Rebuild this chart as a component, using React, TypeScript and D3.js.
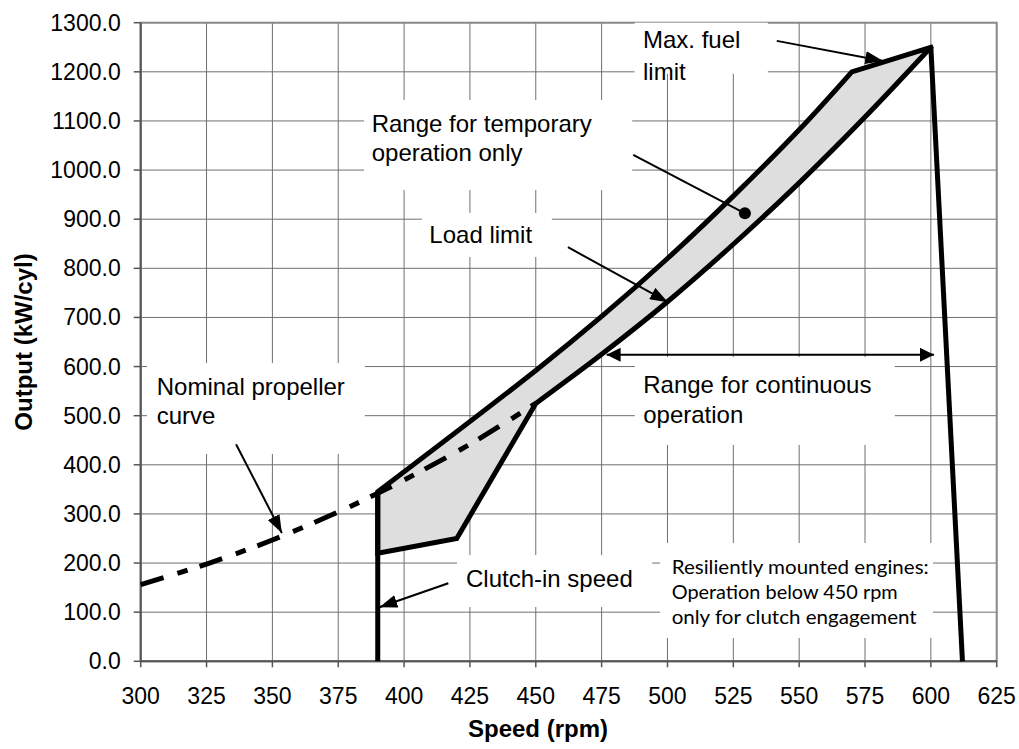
import React, { useEffect } from "react";
import * as d3 from "d3";

// ---------- data ----------
const xTickValues = [300, 325, 350, 375, 400, 425, 450, 475, 500, 525, 550, 575, 600, 625];
const yTickValues = [0, 100, 200, 300, 400, 500, 600, 700, 800, 900, 1000, 1100, 1200, 1300];

// upper boundary (max. fuel limit side)
const upperSpeed = [390, 450, 475, 500, 525, 550, 570];
const upperOutput = [345, 592, 702, 820, 947, 1082, 1200];
const peakSpeed = 600;
const peakOutput = 1250;
// lower boundary (load limit)
const lowerSpeed = [600, 575, 550, 525, 500, 475, 450];
const lowerOutput = [1250, 1108, 974, 849, 732, 625, 525];
const tailSpeed = [420, 390];
const tailOutput = [250, 220];
// clutch-in vertical line
const clutchSpeed = [390, 390];
const clutchOutput = [0, 345];
// right-hand limit line
const limitSpeed = [600, 612];
const limitOutput = [1250, 0];
// nominal propeller curve
const propSpeed = [300, 325, 350, 375, 390, 400, 425, 450];
const propOutput = [156, 198, 247, 304, 342, 369, 442, 525];

// annotation anchors in data units
const arrows = [
  { from: [541.5, 1263], to: [581.9, 1222] },
  { from: [462.2, 843], to: [500.2, 731] },
  { from: [336.2, 442], to: [353.6, 261] },
  { from: [416.8, 159], to: [390.6, 110] },
];
const pointer = { from: [487.0, 1031], to: [529.4, 912] };
const rangeArrow = { y: 624, x1: 476.9, x2: 601.2 };

const boxes = [
  [487.5, 538.1, 1195.8, 1300],
  [384.8, 486.6, 959.3, 1142.5],
  [406.8, 456.1, 823.1, 912.7],
  [302.4, 385.1, 422.1, 607.3],
  [487.6, 586.3, 440.4, 619.5],
  [420.1, 494.2, 110.5, 216.4],
  [497.2, 600.8, 47.4, 240.8],
];

const notes = [
  { x: 490.7, y: 1248.6, gap: 32, lines: ["Max. fuel", "limit"] },
  { x: 387.7, y: 1078.2, gap: 29, lines: ["Range for temporary", "operation only"] },
  { x: 409.6, y: 851, gap: 29, lines: ["Load limit"] },
  { x: 306.1, y: 542.1, gap: 29, lines: ["Nominal propeller", "curve"] },
  { x: 490.8, y: 545.6, gap: 30, lines: ["Range for continuous", "operation"] },
  { x: 423.5, y: 150.6, gap: 29, lines: ["Clutch-in speed"] },
];
const resilNote = {
  x: 501.6,
  y: 177.7,
  gap: 25,
  lines: ["Resiliently mounted engines:", "Operation below 450 rpm", "only for clutch engagement"],
  widths: [257, 226, 245],
};

const W = 1019;
const H = 749;
const FONT = "'Liberation Sans', Arial, Helvetica, sans-serif";

export default function App() {
  useEffect(() => {
    document.body.style.margin = "0";
  }, []);

  const x = d3.scaleLinear().domain([300, 625]).range([140.7, 996.7]);
  const y = d3.scaleLinear().domain([0, 1300]).range([661.3, 22.7]);

  const pts = (xs: number[], ys: number[]) => xs.map((v, i) => [v, ys[i]] as [number, number]);
  const lin = d3
    .line<[number, number]>()
    .x((d) => x(d[0]))
    .y((d) => y(d[1]));
  const smooth = d3
    .line<[number, number]>()
    .x((d) => x(d[0]))
    .y((d) => y(d[1]))
    .curve(d3.curveCatmullRom.alpha(0.5));

  const upperD = smooth(pts(upperSpeed, upperOutput)) as string;
  const lowerD = (smooth(pts(lowerSpeed, lowerOutput)) as string).replace(/^M/, "L");
  const tailD = pts(tailSpeed, tailOutput)
    .map((p) => `L${x(p[0])},${y(p[1])}`)
    .join("");
  const regionD = `${upperD}L${x(peakSpeed)},${y(peakOutput)}${lowerD}${tailD}Z`;

  const propD = smooth(pts(propSpeed, propOutput)) as string;

  const [x0, x1] = x.range();
  const [y0, y1] = y.range();

  return (
    <div style={{ position: "absolute", left: 0, top: 0 }}>
      <svg width={W} height={H} style={{ display: "block", background: "#fff" }}>
        <defs>
          <marker
            id="ah"
            viewBox="0 0 18 13"
            refX={18}
            refY={6.5}
            markerWidth={18}
            markerHeight={13}
            markerUnits="userSpaceOnUse"
            orient="auto-start-reverse"
          >
            <path d="M0,0L18,6.5L0,13Z" fill="#000" />
          </marker>
          <marker
            id="ah2"
            viewBox="0 0 14 14"
            refX={14}
            refY={7}
            markerWidth={14}
            markerHeight={14}
            markerUnits="userSpaceOnUse"
            orient="auto-start-reverse"
          >
            <path d="M0,0L14,7L0,14Z" fill="#000" />
          </marker>
        </defs>
        <rect x={0} y={0} width={W} height={H} fill="#fff" />

        {/* grid */}
        <g stroke="#707070" strokeWidth={1}>
          {xTickValues.map((v) => (
            <line key={"gx" + v} x1={x(v)} x2={x(v)} y1={y1} y2={y0} />
          ))}
          {yTickValues.map((v) => (
            <line key={"gy" + v} x1={x0} x2={x1} y1={y(v)} y2={y(v)} />
          ))}
        </g>
        {/* plot frame */}
        <rect x={x0} y={y1} width={x1 - x0} height={y0 - y1} fill="none" stroke="#8a8a8a" strokeWidth={2} />
        {/* axis lines */}
        <line x1={x0} x2={x0} y1={y1} y2={y0} stroke="#555" strokeWidth={2} />
        <line x1={x0} x2={x1} y1={y0} y2={y0} stroke="#555" strokeWidth={2} />
        {/* ticks */}
        <g stroke="#555" strokeWidth={1.5}>
          {yTickValues.map((v) => (
            <line key={"ty" + v} x1={x0 - 7} x2={x0} y1={y(v)} y2={y(v)} />
          ))}
          {xTickValues.map((v) => (
            <line key={"tx" + v} x1={x(v)} x2={x(v)} y1={y0} y2={y0 + 6} />
          ))}
        </g>
        {/* tick labels */}
        <g fontFamily={FONT} fontSize={23} fill="#000">
          {yTickValues.map((v) => (
            <text key={"ly" + v} x={x0 - 20} y={y(v)} dy="0.35em" textAnchor="end">
              {d3.format(".1f")(v)}
            </text>
          ))}
          {xTickValues.map((v) => (
            <text key={"lx" + v} x={x(v)} y={y0 + 43} textAnchor="middle">
              {v}
            </text>
          ))}
        </g>
        {/* axis titles */}
        <text x={538} y={737} textAnchor="middle" fontFamily={FONT} fontSize={24} fontWeight="bold">
          Speed (rpm)
        </text>
        <text
          transform={`translate(32,${(y0 + y1) / 2}) rotate(-90)`}
          textAnchor="middle"
          fontFamily={FONT}
          fontSize={24}
          fontWeight="bold"
        >
          Output (kW/cyl)
        </text>

        {/* white label boxes */}
        <g fill="#fff">
          {boxes.map((b, i) => (
            <rect key={"b" + i} x={x(b[0])} y={y(b[3])} width={x(b[1]) - x(b[0])} height={y(b[2]) - y(b[3])} />
          ))}
        </g>

        {/* operating region */}
        <path d={regionD} fill="#dedede" stroke="#000" strokeWidth={5} strokeLinejoin="miter" />
        <path d={lin(pts(clutchSpeed, clutchOutput)) as string} fill="none" stroke="#000" strokeWidth={5} />
        <path d={lin(pts(limitSpeed, limitOutput)) as string} fill="none" stroke="#000" strokeWidth={5} />
        <path
          d={propD}
          fill="none"
          stroke="#000"
          strokeWidth={5}
          strokeDasharray="24 14.5 10.5 12.5"
        />

        {/* annotation arrows */}
        <g stroke="#000" strokeWidth={2} fill="none">
          {arrows.map((a, i) => (
            <line
              key={"a" + i}
              x1={x(a.from[0])}
              y1={y(a.from[1])}
              x2={x(a.to[0])}
              y2={y(a.to[1])}
              markerEnd="url(#ah)"
            />
          ))}
          <line x1={x(pointer.from[0])} y1={y(pointer.from[1])} x2={x(pointer.to[0])} y2={y(pointer.to[1])} />
          <line
            x1={x(rangeArrow.x1)}
            x2={x(rangeArrow.x2)}
            y1={y(rangeArrow.y)}
            y2={y(rangeArrow.y)}
            markerStart="url(#ah2)"
            markerEnd="url(#ah2)"
          />
        </g>
        <circle cx={x(pointer.to[0])} cy={y(pointer.to[1])} r={6} fill="#000" />

        {/* annotation texts */}
        <g fontFamily={FONT} fontSize={24} fill="#000">
          {notes.map((n, i) =>
            n.lines.map((l, j) => (
              <text key={"n" + i + "_" + j} x={x(n.x)} y={y(n.y) + j * n.gap}>
                {l}
              </text>
            ))
          )}
        </g>
        <g fontFamily="Lato, 'Open Sans', sans-serif" fontSize={20} fill="#000">
          {resilNote.lines.map((l, j) => (
            <text
              key={"r" + j}
              x={x(resilNote.x)}
              y={y(resilNote.y) + j * resilNote.gap}
              textLength={resilNote.widths[j]}
              lengthAdjust="spacingAndGlyphs"
            >
              {l}
            </text>
          ))}
        </g>
      </svg>
    </div>
  );
}
